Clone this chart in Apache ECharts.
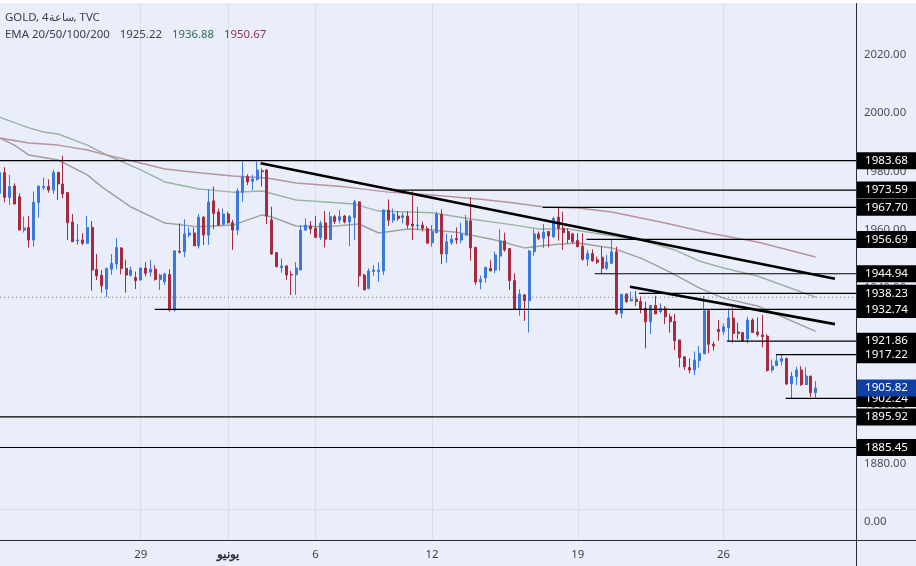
<!DOCTYPE html>
<html>
<head>
<meta charset="utf-8">
<style>html,body{margin:0;padding:0;background:#fff}#c{width:916px;height:566px}</style>
<script src="https://cdn.jsdelivr.net/npm/echarts@6/dist/echarts.min.js"></script>
</head>
<body>
<div id="c"></div>
<script>
const opens = [
1972.5,1979.6,1971.1,1975.0,1971.3,1959.9,1960.8,1956.5,1969.3,1974.4,
1974.8,1973.6,1979.7,1975.7,1972.8,1962.7,1956.2,1956.5,1955.4,1960.8,
1946.5,1944.4,1939.7,1946.5,1948.3,1953.8,1946.8,1944.4,1943.7,1942.8,
1946.9,1945.5,1946.5,1943.0,1942.2,1944.7,1932.5,1952.6,1952.5,1958.2,
1958.9,1954.5,1964.3,1958.2,1969.9,1966.1,1961.9,1965.4,1962.5,1959.9,
1972.8,1978.2,1976.6,1977.3,1980.2,1980.5,1963.4,1952.2,1947.1,1947.6,
1944.7,1944.6,1946.2,1959.9,1961.3,1960.5,1957.4,1962.4,1956.7,1964.5,
1963.3,1964.7,1962.7,1964.2,1969.6,1944.5,1939.9,1945.7,1945.7,1945.9,
1966.8,1963.3,1964.7,1964.2,1964.7,1962.0,1961.3,1961.6,1960.4,1955.6,
1959.0,1965.3,1951.7,1955.6,1957.0,1956.5,1958.2,1963.1,1954.0,1942.1,
1943.5,1946.8,1946.2,1951.0,1956.2,1953.6,1942.6,1932.8,1937.7,1935.7,
1952.5,1958.6,1957.1,1959.4,1957.6,1964.3,1960.5,1959.4,1958.6,1956.3,
1954.4,1949.9,1951.9,1949.7,1950.6,1946.8,1948.5,1952.5,1931.4,1938.0,
1935.7,1936.2,1935.4,1933.1,1928.5,1934.1,1932.0,1933.1,1930.2,1928.6,
1922.3,1916.5,1912.8,1912.0,1915.2,1917.5,1932.3,1920.8,1925.9,1925.1,
1926.5,1929.8,1925.0,1924.8,1922.6,1929.1,1925.0,1924.0,1923.6,1912.0,
1913.5,1915.0,1915.9,1907.2,1909.7,1912.0,1907.0,1909.9,1904.2];
const closes = [
1979.6,1971.1,1974.8,1968.8,1959.9,1960.6,1956.5,1969.4,1975.0,1974.8,
1973.6,1979.6,1975.7,1972.3,1962.4,1955.9,1956.5,1955.4,1960.8,1946.2,
1944.2,1940.8,1946.8,1948.5,1953.9,1946.7,1944.5,1946.2,1942.6,1946.9,
1945.1,1946.5,1943.0,1944.5,1944.9,1932.5,1952.8,1952.3,1958.6,1958.9,
1954.5,1964.3,1958.2,1969.5,1965.6,1961.6,1965.4,1962.4,1959.9,1973.3,
1978.2,1976.4,1977.4,1980.5,1979.9,1964.7,1951.7,1947.4,1947.6,1944.5,
1944.5,1946.9,1959.9,1961.6,1960.3,1957.4,1962.2,1956.8,1964.5,1962.8,
1964.5,1962.7,1964.5,1969.6,1944.2,1939.4,1945.9,1946.2,1946.2,1966.8,
1963.3,1965.4,1963.9,1964.8,1961.6,1961.3,1961.6,1960.5,1955.4,1959.4,
1965.3,1951.7,1955.9,1956.8,1956.5,1958.6,1963.1,1953.8,1942.1,1943.0,
1947.1,1945.9,1951.4,1956.2,1953.1,1942.6,1932.8,1938.0,1935.7,1952.7,
1958.6,1957.1,1959.2,1957.9,1963.9,1960.5,1959.0,1956.7,1955.9,1954.2,
1949.9,1951.9,1949.4,1948.9,1946.8,1948.9,1952.5,1931.4,1937.9,1935.4,
1936.2,1935.4,1932.8,1928.5,1934.1,1931.2,1933.1,1930.2,1928.5,1922.0,
1916.2,1913.1,1912.0,1915.4,1917.7,1932.3,1920.8,1920.2,1925.1,1926.8,
1929.8,1924.5,1924.5,1922.0,1929.1,1924.8,1924.1,1923.4,1911.8,1913.3,
1915.1,1915.9,1907.2,1909.9,1912.0,1907.0,1909.9,1904.2,1905.82];
const lows = [
1971.0,1969.4,1968.5,1968.8,1959.9,1959.1,1953.9,1954.2,1964.2,1973.6,
1972.7,1972.3,1970.2,1970.8,1956.5,1955.9,1954.8,1954.8,1955.1,1939.1,
1942.8,1938.5,1936.9,1944.6,1946.5,1944.7,1938.5,1944.0,1939.7,1942.6,
1944.0,1944.0,1942.6,1939.4,1941.1,1932.0,1932.0,1951.9,1950.6,1957.4,
1954.5,1953.6,1954.8,1954.8,1960.2,1961.3,1961.6,1962.2,1953.1,1958.2,
1969.6,1975.3,1973.6,1976.8,1974.8,1961.9,1951.4,1947.1,1945.3,1942.8,
1937.7,1937.7,1946.2,1959.7,1958.6,1957.4,1956.5,1954.0,1956.5,1962.0,
1962.2,1962.2,1954.4,1956.5,1940.5,1939.4,1939.6,1944.2,1942.2,1944.5,
1961.3,1962.4,1963.1,1962.2,1960.5,1956.5,1959.9,1959.4,1955.4,1954.2,
1958.8,1948.3,1948.7,1954.8,1955.1,1955.4,1957.9,1949.4,1941.1,1939.6,
1941.9,1945.9,1945.1,1946.0,1952.5,1939.4,1932.5,1930.6,1928.8,1924.8,
1951.1,1956.5,1953.8,1954.0,1957.2,1956.3,1953.1,1955.4,1955.4,1954.0,
1949.4,1947.6,1949.1,1948.3,1944.9,1946.2,1948.3,1930.8,1929.7,1935.0,
1935.4,1933.9,1931.4,1919.4,1924.3,1931.2,1931.4,1927.7,1924.8,1918.8,
1912.9,1912.0,1910.8,1910.3,1912.8,1917.5,1917.7,1918.6,1922.0,1924.0,
1921.7,1921.3,1922.5,1921.7,1921.1,1924.8,1923.4,1919.7,1911.4,1911.2,
1913.3,1913.5,1906.8,1902.3,1906.8,1906.5,1906.8,1902.8,1902.3];
const highs = [
1980.0,1981.4,1978.8,1975.9,1972.5,1964.5,1964.7,1973.1,1975.0,1977.9,
1977.3,1980.5,1979.7,1985.4,1972.8,1965.4,1962.0,1958.8,1964.7,1963.0,
1951.7,1946.2,1946.8,1951.7,1957.1,1954.0,1949.7,1947.4,1945.7,1947.1,
1948.9,1949.7,1947.9,1944.9,1945.3,1946.5,1952.8,1962.2,1963.6,1960.8,
1960.8,1965.4,1964.7,1973.9,1974.8,1967.3,1967.3,1966.2,1963.4,1974.2,
1983.3,1979.0,1978.8,1983.3,1981.0,1980.7,1967.9,1952.2,1950.2,1947.9,
1945.9,1948.9,1961.6,1963.9,1963.0,1964.7,1963.1,1966.4,1966.2,1965.1,
1966.8,1965.1,1965.1,1970.2,1969.6,1944.9,1946.8,1947.9,1948.9,1967.0,
1970.4,1967.3,1966.4,1965.9,1966.4,1973.1,1967.9,1962.8,1961.3,1961.6,
1966.2,1967.0,1958.6,1958.2,1960.8,1962.4,1965.1,1971.1,1954.0,1944.3,
1947.4,1949.6,1952.5,1960.2,1959.0,1953.6,1945.1,1939.6,1938.0,1953.1,
1960.2,1959.4,1962.0,1959.4,1964.5,1967.6,1966.2,1960.5,1959.0,1958.8,
1958.8,1953.1,1953.3,1950.8,1954.2,1951.4,1956.7,1954.2,1938.0,1938.2,
1938.8,1939.1,1937.1,1935.4,1934.2,1937.4,1934.8,1933.9,1931.2,1931.2,
1922.3,1916.5,1916.0,1918.3,1920.2,1937.3,1932.8,1921.7,1929.1,1927.9,
1933.1,1933.4,1928.2,1924.8,1930.2,1929.7,1930.0,1930.8,1924.2,1915.6,
1917.1,1917.1,1916.2,1911.4,1913.1,1913.3,1912.9,1909.9,1908.2];

// EMA readings: [candle index, price]
const emaGray = [[0,1991.4],[3,1989.0],[6,1985.6],[12,1983.9],[18,1978.8],[21,1974.7],[27,1967.8],[34,1962.3],[41,1961.0],[48,1961.6],[54,1965.1],[56,1964.4],[61,1961.3],[67,1961.0],[74,1962.0],[78,1958.9],[84,1960.3],[89,1959.9],[94,1959.2],[102,1956.5],[108,1953.8],[113,1954.8],[119,1955.5],[126,1953.8],[132,1950.3],[138,1945.5],[144,1940.1],[149,1936.6],[156,1933.9],[168,1925.22]];
const emaGreen = [[0,1998.6],[2,1997.3],[6,1994.9],[9,1993.5],[12,1992.8],[18,1989.0],[22,1985.6],[29,1980.5],[34,1976.4],[41,1974.0],[48,1972.9],[54,1973.3],[61,1970.2],[73,1968.8],[78,1966.4],[89,1965.8],[97,1963.7],[106,1961.6],[111,1960.3],[117,1960.3],[125,1958.2],[132,1956.5],[139,1953.1],[144,1949.3],[149,1946.9],[156,1944.2],[168,1936.88]];
const emaMaroon = [[0,1991.4],[6,1989.7],[12,1989.0],[18,1987.3],[21,1986.0],[29,1982.9],[34,1980.8],[41,1979.5],[48,1978.4],[55,1977.7],[61,1976.0],[71,1974.7],[80,1972.9],[89,1971.9],[99,1970.5],[106,1969.2],[112,1967.8],[119,1967.5],[126,1966.1],[137,1962.3],[146,1958.9],[156,1955.8],[168,1950.67]];

// Horizontal levels: price and the candle index each drawing starts at
const levelPrices = [1983.68,1973.59,1967.70,1956.69,1944.94,1938.23,1932.74,1921.86,1917.22,1902.24,1895.92,1885.45];
const levelStarts = [0,80.7,111.8,120.8,122.5,131.6,31.9,149.7,159.8,161.8,0,0];
const trendA = [[53.7,1982.8],[171.95,1943.2]];
const trendB = [[129.75,1940.5],[171.95,1927.7]];
const lastPrice = 1905.82;
const ema50Last = 1936.88;

const priceTicks = [1880,1900,1920,1940,1960,1980,2000,2020];
const dayTickIdx = [29,47,65,89,119,149];
const dayTickLabels = ['29','يونيو','6','12','19','26'];
const legendTitle = 'GOLD, 4ساعة, TVC';
const legendEma = 'EMA 20/50/100/200';
const legendValues = ['1925.22','1936.88','1950.67'];

const candles = opens.map((o, i) => [i, o, closes[i], lows[i], highs[i]]);
const font = '"Noto Sans", sans-serif';
const textSize = 11.4;
const priceMin = 1864.38, priceMax = 2037.67, xMin = 0.035, xMax = 176.5;

const emaLine = (data, color) => ({
  type: 'line', xAxisIndex: 0, yAxisIndex: 0, data, symbol: 'none', silent: true, z: 2,
  lineStyle: {color, width: 1.5}
});
const blackLine = (data, width) => ({
  type: 'line', xAxisIndex: 0, yAxisIndex: 0, data, symbol: 'none', silent: true, z: 4,
  lineStyle: {color: '#000', width}
});

const tagData = levelPrices.map(p => ({value: [0.5, p]}));
tagData.push({value: [0.5, lastPrice], label: {backgroundColor: '#0f3ea6'}});

const chart = echarts.init(document.getElementById('c'), null, {renderer: 'canvas', width: 916, height: 566});
chart.setOption({
  animation: false,
  backgroundColor: '#eaeefa',
  title: {
    left: 5, top: 9, padding: 0,
    text: '{t|' + legendTitle + '}\n{t|' + legendEma + '}  {t|' + legendValues[0] + '}  {g|' + legendValues[1] + '}  {m|' + legendValues[2] + '}',
    textStyle: {
      fontWeight: 'normal',
      rich: {
        t: {color: '#3b404c', fontFamily: font, fontSize: textSize, fontWeight: 'normal', lineHeight: 17},
        g: {color: '#2f6f50', fontFamily: font, fontSize: textSize, fontWeight: 'normal', lineHeight: 17},
        m: {color: '#8a3550', fontFamily: font, fontSize: textSize, fontWeight: 'normal', lineHeight: 17}
      }
    }
  },
  grid: [
    {left: 0, width: 857, top: 3, height: 506},
    {left: 0, width: 857, top: 509, height: 32},
    {left: 859, width: 55, top: 3, height: 506}
  ],
  xAxis: [
    {type: 'value', gridIndex: 0, min: xMin, max: xMax, axisLine: {show: false},
      axisTick: {show: false, customValues: dayTickIdx}, axisLabel: {show: false, customValues: dayTickIdx},
      splitLine: {show: true, lineStyle: {color: '#dadfe9', width: 1}}},
    {type: 'value', gridIndex: 1, min: xMin, max: xMax, axisLine: {show: false},
      axisTick: {show: false, customValues: dayTickIdx},
      axisLabel: {show: true, customValues: dayTickIdx, margin: 8, color: '#3b404c', fontFamily: font, fontSize: textSize,
        formatter: v => { const s = dayTickLabels[dayTickIdx.indexOf(v)]; return s === 'يونيو' ? '{b|' + s + '}' : s; },
        rich: {b: {fontWeight: 'bold', color: '#2a2e39', fontFamily: font, fontSize: 12}}},
      splitLine: {show: true, lineStyle: {color: '#dadfe9', width: 1}}},
    {type: 'value', gridIndex: 2, min: 0, max: 1, show: false}
  ],
  yAxis: [
    {type: 'value', gridIndex: 0, position: 'right', min: priceMin, max: priceMax, scale: true,
      axisLine: {show: false}, splitLine: {show: false},
      axisTick: {show: false, customValues: priceTicks},
      axisLabel: {customValues: priceTicks, margin: 7, padding: [3, 0, 0, 0], color: '#4a4f5b', fontFamily: font, fontSize: textSize, formatter: v => v.toFixed(2)}},
    {type: 'value', gridIndex: 1, position: 'right', min: -19, max: 13,
      axisLine: {show: false}, splitLine: {show: false},
      axisTick: {show: false, customValues: [0]},
      axisLabel: {customValues: [0], margin: 7, padding: [3, 0, 0, 0], color: '#4a4f5b', fontFamily: font, fontSize: textSize, formatter: v => v.toFixed(2)}},
    {type: 'value', gridIndex: 2, min: priceMin, max: priceMax, scale: true, show: false}
  ],
  series: [
    {type: 'line', xAxisIndex: 0, yAxisIndex: 0, symbol: 'none', silent: true, z: 1,
      data: [[xMin, ema50Last], [xMax, ema50Last]], lineStyle: {color: '#6f7682', width: 1, type: [1, 3]}},
    emaLine(emaGray, '#9ca29f'),
    emaLine(emaGreen, '#9db4a4'),
    emaLine(emaMaroon, '#b9929f'),
    {type: 'candlestick', xAxisIndex: 0, yAxisIndex: 0, data: candles, encode: {x: 0, y: [1, 2, 3, 4]}, barWidth: 2.5, silent: true, z: 3,
      itemStyle: {color: '#3a78de', color0: '#a82a3e', borderColor: '#3a78de', borderColor0: '#a82a3e', borderWidth: 1}},
    ...levelPrices.map((p, i) => blackLine([[levelStarts[i], p], [xMax, p]], 1.2)),
    blackLine(trendA, 2.6),
    blackLine(trendB, 2.6),
    {type: 'scatter', xAxisIndex: 2, yAxisIndex: 2, symbolSize: 0, silent: true, z: 20, data: tagData, clip: false,
      itemStyle: {opacity: 1},
      label: {show: true, position: 'inside', formatter: p => p.value[1].toFixed(2), opacity: 1,
        color: '#fff', fontFamily: font, fontSize: 11.6, width: 55, height: 17, lineHeight: 17, padding: [0, 2, 0, 2], align: 'center', verticalAlign: 'middle',
        backgroundColor: '#000'}}
  ],
  graphic: [
    {type: 'rect', z: 30, silent: true, shape: {x: 0, y: 0, width: 916, height: 3}, style: {fill: '#fff'}},
    {type: 'line', z: 30, silent: true, shape: {x1: 856.5, y1: 3, x2: 856.5, y2: 566}, style: {stroke: '#2a2e39', lineWidth: 1}},
    {type: 'line', z: 30, silent: true, shape: {x1: 0, y1: 540.5, x2: 916, y2: 540.5}, style: {stroke: '#2a2e39', lineWidth: 1}},
    {type: 'line', z: 1, silent: true, shape: {x1: 0, y1: 509.5, x2: 916, y2: 509.5}, style: {stroke: '#dadfe9', lineWidth: 1}}
  ]
});
</script>
</body>
</html>
